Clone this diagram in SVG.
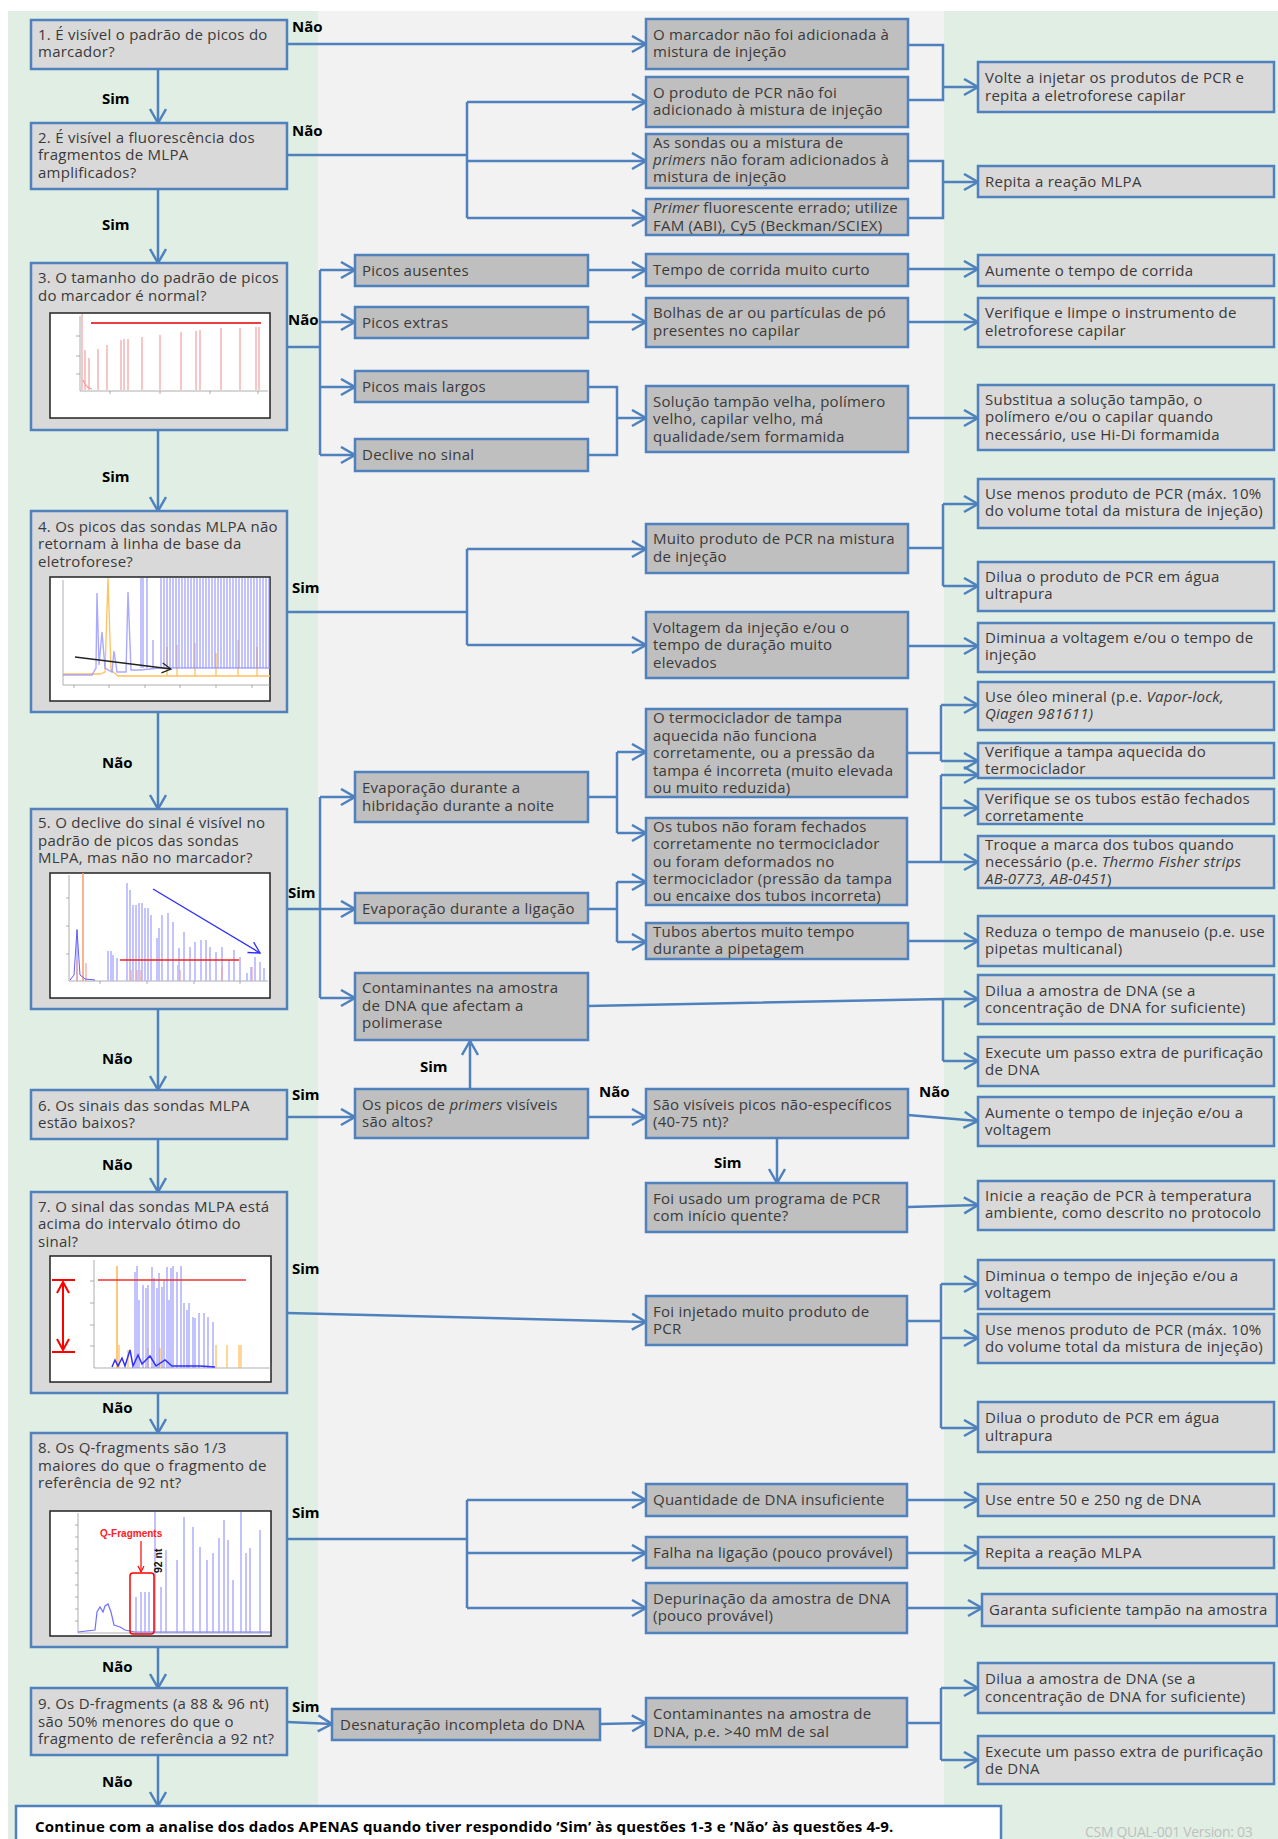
<svg xmlns="http://www.w3.org/2000/svg" width="1278" height="1839" viewBox="0 0 1278 1839">
<style>
.bgg{fill:#E0EEE4}
.bgc{fill:#F2F2F2}
.q{fill:#D9D9D9;stroke:#4F81BD;stroke-width:2.5}
.m{fill:#BFBFBF;stroke:#4F81BD;stroke-width:2.5}
.r{fill:#D9D9D9;stroke:#4F81BD;stroke-width:2.5}
.t{font-family:"Open Sans","Noto Sans",sans-serif;font-size:15px;fill:#3A3A3A;letter-spacing:0.25px}
.lb{font-family:"Open Sans","Noto Sans",sans-serif;font-size:15px;font-weight:bold;fill:#000}
.c{fill:none;stroke:#4F81BD;stroke-width:2.5}
.a{marker-end:url(#ah)}
.ch{fill:#fff;stroke:#222;stroke-width:1.5}
.ax{fill:none;stroke:#999;stroke-width:0.8}
.pr{fill:none;stroke:#F4A0A0;stroke-width:1.2}
.pb{fill:none;stroke:#8C8CFF;stroke-width:1.4;opacity:0.75}
.pbl{fill:none;stroke:#B8B8FF;stroke-width:2;opacity:0.85}
.po{fill:none;stroke:#FFC060;stroke-width:1.3}
</style>
<defs>
<marker id="ah" markerUnits="userSpaceOnUse" markerWidth="18" markerHeight="20" refX="15" refY="9" orient="auto" viewBox="0 0 18 20">
<path d="M1,1 L15,9 L1,17" fill="none" stroke="#4F81BD" stroke-width="2.5"/>
</marker>
<marker id="ahk" markerUnits="userSpaceOnUse" markerWidth="12" markerHeight="12" refX="10" refY="6" orient="auto" viewBox="0 0 12 12">
<path d="M1,1 L10,6 L1,11" fill="none" stroke="#222" stroke-width="1.2"/>
</marker>
<marker id="ahb" markerUnits="userSpaceOnUse" markerWidth="14" markerHeight="14" refX="12" refY="7" orient="auto" viewBox="0 0 14 14">
<path d="M1,1 L12,7 L1,13" fill="none" stroke="#2A2AFF" stroke-width="1.3"/>
</marker>
<marker id="ahr" markerUnits="userSpaceOnUse" markerWidth="14" markerHeight="14" refX="12" refY="7" orient="auto-start-reverse" viewBox="0 0 14 14">
<path d="M1,1 L12,7 L1,13" fill="none" stroke="#FF0000" stroke-width="2"/>
</marker>
<clipPath id="cq3"><rect x="50" y="313" width="220" height="105"/></clipPath>
<clipPath id="cq4"><rect x="50" y="577" width="220" height="124"/></clipPath>
<clipPath id="cq5"><rect x="50" y="873" width="220" height="125"/></clipPath>
<clipPath id="cq7"><rect x="50" y="1256" width="221" height="126"/></clipPath>
<clipPath id="cq8"><rect x="50" y="1511" width="221" height="125"/></clipPath>
</defs>

<rect x="0" y="0" width="1278" height="1839" fill="#FFFFFF"/>
<rect class="bgg" x="8" y="11" width="310" height="1828"/>
<rect class="bgc" x="318" y="11" width="626" height="1828"/>
<rect class="bgg" x="944" y="11" width="334" height="1828"/>

<g id="connectors">
<path class="c a" d="M287,44 H646"/>
<path class="c a" d="M158,69 V123"/>
<path class="c" d="M287,155 H467 M467,102 V218"/>
<path class="c a" d="M467,102 H646"/>
<path class="c a" d="M467,161 H646"/>
<path class="c a" d="M467,218 H646"/>
<path class="c a" d="M158,189 V263"/>
<path class="c" d="M908,45 H943 V100 H908"/>
<path class="c a" d="M943,87 H978"/>
<path class="c" d="M908,161 H943 V218 H908"/>
<path class="c a" d="M943,182 H978"/>
<path class="c" d="M287,347 H320 M320,270 V455"/>
<path class="c a" d="M320,270 H355"/>
<path class="c a" d="M320,322 H355"/>
<path class="c a" d="M320,387 H355"/>
<path class="c a" d="M320,455 H355"/>
<path class="c a" d="M588,270 H646"/>
<path class="c a" d="M588,322 H646"/>
<path class="c" d="M588,387 H617 V455 H588"/>
<path class="c a" d="M617,418 H646"/>
<path class="c a" d="M908,269 H978"/>
<path class="c a" d="M908,322 H978"/>
<path class="c a" d="M908,418 H978"/>
<path class="c a" d="M158,430 V511"/>
<path class="c" d="M287,612 H467 M467,549 V645"/>
<path class="c a" d="M467,549 H646"/>
<path class="c a" d="M467,645 H646"/>
<path class="c" d="M908,548 H943 M943,504 V586"/>
<path class="c a" d="M943,504 H978"/>
<path class="c a" d="M943,586 H978"/>
<path class="c a" d="M908,646 H978"/>
<path class="c a" d="M158,712 V809"/>
<path class="c" d="M287,909 H320 M320,797 V998"/>
<path class="c a" d="M320,797 H355"/>
<path class="c a" d="M320,909 H355"/>
<path class="c a" d="M320,998 H355"/>
<path class="c" d="M588,797 H617 M617,752 V833"/>
<path class="c a" d="M617,752 H646"/>
<path class="c a" d="M617,833 H646"/>
<path class="c" d="M588,909 H617 M617,882 V942"/>
<path class="c a" d="M617,882 H646"/>
<path class="c a" d="M617,942 H646"/>
<path class="c" d="M908,753 H941 M941,705 V761"/>
<path class="c a" d="M941,705 H978"/>
<path class="c a" d="M941,761 H978"/>
<path class="c" d="M908,862 H941 M941,775 V862"/>
<path class="c a" d="M941,775 H978"/>
<path class="c a" d="M941,808 H978"/>
<path class="c a" d="M941,862 H978"/>
<path class="c a" d="M908,941 H978"/>
<path class="c" d="M588,1006 L943,999 M943,999 V1061"/>
<path class="c a" d="M943,999 H978"/>
<path class="c a" d="M943,1061 H978"/>
<path class="c a" d="M158,1009 V1090"/>
<path class="c a" d="M287,1117 H355"/>
<path class="c a" d="M470,1089 V1041"/>
<path class="c a" d="M588,1117 H646"/>
<path class="c a" d="M908,1115 L978,1121"/>
<path class="c a" d="M777,1138 V1183"/>
<path class="c a" d="M908,1207 L978,1205"/>
<path class="c a" d="M158,1139 V1192"/>
<path class="c a" d="M287,1313 L646,1322"/>
<path class="c" d="M908,1321 H941 M941,1284 V1428"/>
<path class="c a" d="M941,1284 H978"/>
<path class="c a" d="M941,1338 H978"/>
<path class="c a" d="M941,1428 H978"/>
<path class="c a" d="M158,1393 V1433"/>
<path class="c" d="M287,1539 H467 M467,1500 V1608"/>
<path class="c a" d="M467,1500 H646"/>
<path class="c a" d="M467,1553 H646"/>
<path class="c a" d="M467,1608 H646"/>
<path class="c a" d="M907,1500 H978"/>
<path class="c a" d="M907,1553 H978"/>
<path class="c a" d="M907,1608 H982"/>
<path class="c a" d="M158,1647 V1688"/>
<path class="c a" d="M287,1722 L332,1724"/>
<path class="c a" d="M600,1724 L646,1723"/>
<path class="c" d="M907,1723 H941 M941,1688 V1760"/>
<path class="c a" d="M941,1688 H978"/>
<path class="c a" d="M941,1760 H978"/>
<path class="c a" d="M158,1755 V1806"/>
</g>

<g id="labels">
<text class="lb" x="292" y="32">Não</text>
<text class="lb" x="102" y="104">Sim</text>
<text class="lb" x="292" y="136">Não</text>
<text class="lb" x="102" y="230">Sim</text>
<text class="lb" x="288" y="325">Não</text>
<text class="lb" x="102" y="482">Sim</text>
<text class="lb" x="292" y="593">Sim</text>
<text class="lb" x="102" y="768">Não</text>
<text class="lb" x="288" y="898">Sim</text>
<text class="lb" x="102" y="1064">Não</text>
<text class="lb" x="292" y="1100">Sim</text>
<text class="lb" x="420" y="1072">Sim</text>
<text class="lb" x="599" y="1097">Não</text>
<text class="lb" x="919" y="1097">Não</text>
<text class="lb" x="714" y="1168">Sim</text>
<text class="lb" x="102" y="1170">Não</text>
<text class="lb" x="292" y="1274">Sim</text>
<text class="lb" x="102" y="1413">Não</text>
<text class="lb" x="292" y="1518">Sim</text>
<text class="lb" x="102" y="1672">Não</text>
<text class="lb" x="292" y="1712">Sim</text>
<text class="lb" x="102" y="1787">Não</text>
</g>

<g id="q1">
<rect class="q" x="31" y="20" width="256" height="49"/>
<text class="t"><tspan x="38" y="40">1. É visível o padrão de picos do</tspan><tspan x="38" y="57">marcador?</tspan></text>
</g>
<g id="q2">
<rect class="q" x="31" y="123" width="256" height="66"/>
<text class="t"><tspan x="38" y="143">2. É visível a fluorescência dos</tspan><tspan x="38" y="160">fragmentos de MLPA</tspan><tspan x="38" y="178">amplificados?</tspan></text>
</g>
<g id="q3">
<rect class="q" x="31" y="263" width="256" height="167"/>
<text class="t"><tspan x="38" y="283">3. O tamanho do padrão de picos</tspan><tspan x="38" y="301">do marcador é normal?</tspan></text>
<rect class="ch" x="50" y="313" width="220" height="105"/>
<g clip-path="url(#cq3)">
<path class="ax" d="M80,316 V391 H268 M76,336 H80 M76,356 H80 M76,374 H80 M110,391 V394 M160,391 V394 M210,391 V394 M258,391 V394"/>
<path class="pr" d="M82,390V314 M85,390V350 M89,390V358 M98,390V349 M107,390V345 M121,390V340 M124,390V339 M128,390V339 M142,390V337 M160,390V335 M181,390V332 M196,390V331 M200,390V330 M221,390V328 M240,390V328 M256,390V327 M259,390V327 M83,380 Q86,388 92,389"/>
<path d="M91,323 H261" stroke="#E00000" stroke-width="1.5"/>
</g>
</g>
<g id="q4">
<rect class="q" x="31" y="511" width="256" height="201"/>
<text class="t"><tspan x="38" y="532">4. Os picos das sondas MLPA não</tspan><tspan x="38" y="549">retornam à linha de base da</tspan><tspan x="38" y="567">eletroforese?</tspan></text>
<rect class="ch" x="50" y="577" width="220" height="124"/>
<g clip-path="url(#cq4)">
<path class="ax" d="M63,580 V685 H270 M74,685 V688 M109,685 V688 M145,685 V688 M180,685 V688 M216,685 V688 M252,685 V688"/>
<path class="po" d="M63,674 L100,674 L105,672 L108,578 L111,670 L118,676 L270,676 M167,676V647 M177,676V645 M195,676V643 M216,676V653 M238,676V640 M257,676V647"/>
<path class="pb" d="M63,675 L92,675 L96,668 L97,593 L99,665 L102,632 L105,668 L112,672 L114,651 L117,672 L126,672 L128,592 L131,670 L140,670 L160,668 L270,668"/>
<path class="pb" d="M141,668V578 M143,668V578 M147,668V578 M153,668V640 M161,668V578 M164,668V578 M167,668V578 M170,668V578 M173,668V578 M176,668V578 M179,668V578 M182,668V578 M185,668V578 M188,668V578 M191,668V578 M194,668V578 M197,668V578 M200,668V578 M203,668V578 M206,668V578 M209,668V578 M212,668V578 M215,668V578 M218,668V578 M221,668V578 M224,668V578 M227,668V578 M230,668V578 M233,668V578 M236,668V578 M239,668V578 M242,668V578 M245,668V578 M248,668V578 M251,668V578 M254,668V578 M257,668V578 M260,668V578 M263,668V578 M266,668V578 M269,668V578"/>
<path d="M75,657 L171,669" stroke="#222" stroke-width="1.3" fill="none" marker-end="url(#ahk)"/>
</g>
</g>
<g id="q5">
<rect class="q" x="31" y="809" width="256" height="200"/>
<text class="t"><tspan x="38" y="828">5. O declive do sinal é visível no</tspan><tspan x="38" y="846">padrão de picos das sondas</tspan><tspan x="38" y="863">MLPA, mas não no marcador?</tspan></text>
<rect class="ch" x="50" y="873" width="220" height="125"/>
<g clip-path="url(#cq5)">
<path class="ax" d="M69,875 V981 H268 M66,898 H69 M66,926 H69 M66,954 H69 M100,981 V984 M147,981 V984 M194,981 V984 M240,981 V984"/>
<path class="pbl" d="M77,981V929 M127,981V883 M130,981V890 M133,981V905 M136,981V905 M139,981V903 M142,981V903 M145,981V908 M148,981V908 M151,981V915 M157,981V938 M159,981V928 M162,981V915 M168,981V913 M173,981V922 M178,981V965 M179,981V948 M184,981V932 M190,981V947 M195,981V942 M201,981V940 M206,981V940 M210,981V947 M216,981V952 M222,981V947 M229,981V960 M234,981V950 M240,981V957 M247,981V973 M251,981V967 M255,981V957 M260,981V962 M264,981V968 M108,981V951 M111,981V951 M113,981V955 M117,981V958"/>
<path class="pr" d="M77,981V960 M86,981V963 M131,981V970 M137,981V970 M141,981V970 M180,981V970 M222,981V967 M252,981V967"/>
<path d="M83,873 V981" stroke="#F8A070" stroke-width="1.6"/>
<path d="M70,980 L74,975 L77,930 L80,975 L85,979 L95,980" fill="none" stroke="#6060FF" stroke-width="1"/>
<path d="M120,960 H239" stroke="#F02020" stroke-width="1.6"/>
<path d="M153,889 L260,953" stroke="#2A2AFF" stroke-width="1.3" fill="none" marker-end="url(#ahb)"/>
</g>
</g>
<g id="q6">
<rect class="q" x="31" y="1090" width="256" height="49"/>
<text class="t"><tspan x="38" y="1111">6. Os sinais das sondas MLPA</tspan><tspan x="38" y="1128">estão baixos?</tspan></text>
</g>
<g id="q7">
<rect class="q" x="31" y="1192" width="256" height="201"/>
<text class="t"><tspan x="38" y="1212">7. O sinal das sondas MLPA está</tspan><tspan x="38" y="1229">acima do intervalo ótimo do</tspan><tspan x="38" y="1247">sinal?</tspan></text>
<rect class="ch" x="50" y="1256" width="221" height="126"/>
<g clip-path="url(#cq7)">
<path class="ax" d="M94,1260 V1368 H271 M90,1281 H94 M90,1303 H94 M90,1325 H94 M90,1346 H94"/>
<path d="M117,1266 V1368" stroke="#FFB040" stroke-width="1.4"/>
<path class="po" d="M216,1368V1345 M227,1368V1345 M239,1368V1345 M241,1368V1345 M119,1368V1345 M128,1368V1350 M148,1368V1348 M160,1368V1348"/>
<path class="pb" d="M135,1368V1272 M137,1368V1266 M143,1368V1285 M146,1368V1288 M148,1368V1285 M152,1368V1267 M154,1368V1278 M157,1368V1288 M159,1368V1273 M162,1368V1287 M164,1368V1280 M167,1368V1267 M171,1368V1268 M173,1368V1266 M177,1368V1272 M181,1368V1266 M184,1368V1303 M189,1368V1303 M193,1368V1317 M195,1368V1318 M199,1368V1313 M204,1368V1313 M208,1368V1317 M213,1368V1322 M139,1368V1300 M169,1368V1300 M187,1368V1310"/>
<path d="M112,1367 L115,1360 L118,1366 L122,1358 L125,1366 L130,1350 L133,1366 L138,1355 L142,1364 L150,1356 L156,1366 L165,1360 L172,1366 L200,1366 L215,1367" fill="none" stroke="#3030FF" stroke-width="1.5"/>
<path d="M98,1280 H246" stroke="#F03030" stroke-width="1.4"/>
<path d="M52,1280 H75 M52,1352 H75" stroke="#FF0000" stroke-width="2"/>
<path d="M63,1282 V1350" stroke="#FF0000" stroke-width="2" fill="none" marker-start="url(#ahr)" marker-end="url(#ahr)"/>
</g>
</g>
<g id="q8">
<rect class="q" x="31" y="1433" width="256" height="214"/>
<text class="t"><tspan x="38" y="1453">8. Os Q-fragments são 1/3</tspan><tspan x="38" y="1471">maiores do que o fragmento de</tspan><tspan x="38" y="1488">referência de 92 nt?</tspan></text>
<rect class="ch" x="50" y="1511" width="221" height="125"/>
<g clip-path="url(#cq8)">
<path class="ax" d="M78,1513 V1633 H270 M75,1525 H78 M75,1537 H78 M75,1549 H78 M75,1561 H78 M75,1573 H78 M75,1585 H78 M75,1597 H78 M75,1609 H78 M75,1621 H78"/>
<path d="M78,1632 L95,1630 L97,1612 L100,1607 L103,1612 L105,1606 L108,1604 L111,1612 L114,1625 L120,1627 L125,1630 L135,1632 L270,1632" fill="none" stroke="#7070FF" stroke-width="1.2"/>
<path class="pb" d="M136,1633V1597 M141,1633V1592 M145,1633V1592 M149,1633V1592 M155,1633V1512 M161,1633V1587 M166,1633V1550 M177,1633V1560 M184,1633V1517 M193,1633V1527 M200,1633V1547 M207,1633V1560 M213,1633V1553 M219,1633V1538 M224,1633V1520 M228,1633V1540 M233,1633V1580 M241,1633V1512 M246,1633V1553 M250,1633V1548 M260,1633V1530"/>
<rect x="130" y="1573" width="24" height="61" rx="3" fill="none" stroke="#FF0000" stroke-width="1.5"/>
<path d="M141,1541 V1570" stroke="#FF0000" stroke-width="1.2"/>
<path d="M138,1566 L141,1572 L144,1566" fill="none" stroke="#FF0000" stroke-width="1.2"/>
<text x="100" y="1537" font-family="Liberation Sans, Arial, sans-serif" font-size="10" font-weight="bold" fill="#FF2020">Q-Fragments</text>
<text transform="translate(162,1573) rotate(-90)" font-family="Liberation Sans, Arial, sans-serif" font-size="10.5" font-weight="bold" fill="#111">92 nt</text>
</g>
</g>
<g id="q9">
<rect class="q" x="31" y="1688" width="256" height="67"/>
<text class="t"><tspan x="38" y="1709">9. Os D-fragments (a 88 &amp; 96 nt)</tspan><tspan x="38" y="1727">são 50% menores do que o</tspan><tspan x="38" y="1744">fragmento de referência a 92 nt?</tspan></text>
</g>

<g id="m-picos-ausentes"><rect class="m" x="355" y="255" width="233" height="31"/><text class="t" x="362" y="276">Picos ausentes</text></g>
<g id="m-picos-extras"><rect class="m" x="355" y="307" width="233" height="31"/><text class="t" x="362" y="328">Picos extras</text></g>
<g id="m-picos-largos"><rect class="m" x="355" y="371" width="233" height="31"/><text class="t" x="362" y="392">Picos mais largos</text></g>
<g id="m-declive"><rect class="m" x="355" y="439" width="233" height="32"/><text class="t" x="362" y="460">Declive no sinal</text></g>
<g id="m-evap-hib"><rect class="m" x="355" y="772" width="233" height="50"/><text class="t"><tspan x="362" y="793">Evaporação durante a</tspan><tspan x="362" y="811">hibridação durante a noite</tspan></text></g>
<g id="m-evap-lig"><rect class="m" x="355" y="893" width="233" height="30"/><text class="t" x="362" y="914">Evaporação durante a ligação</text></g>
<g id="m-contam"><rect class="m" x="355" y="973" width="233" height="67"/><text class="t"><tspan x="362" y="993">Contaminantes na amostra</tspan><tspan x="362" y="1011">de DNA que afectam a</tspan><tspan x="362" y="1028">polimerase</tspan></text></g>
<g id="m-primers"><rect class="m" x="355" y="1089" width="233" height="49"/><text class="t"><tspan x="362" y="1110">Os picos de <tspan font-style="italic">primers</tspan> visíveis</tspan><tspan x="362" y="1127">são altos?</tspan></text></g>
<g id="m-desnat"><rect class="m" x="332" y="1709" width="268" height="31"/><text class="t" x="340" y="1730">Desnaturação incompleta do DNA</text></g>

<g id="c-marcador"><rect class="m" x="646" y="19" width="262" height="50"/><text class="t"><tspan x="653" y="40">O marcador não foi adicionada à</tspan><tspan x="653" y="57">mistura de injeção</tspan></text></g>
<g id="c-produto"><rect class="m" x="646" y="77" width="262" height="50"/><text class="t"><tspan x="653" y="98">O produto de PCR não foi</tspan><tspan x="653" y="115">adicionado à mistura de injeção</tspan></text></g>
<g id="c-sondas"><rect class="m" x="646" y="134" width="262" height="54"/><text class="t"><tspan x="653" y="148">As sondas ou a mistura de</tspan><tspan x="653" y="165"><tspan font-style="italic">primers</tspan> não foram adicionados à</tspan><tspan x="653" y="182">mistura de injeção</tspan></text></g>
<g id="c-primer"><rect class="m" x="646" y="199" width="262" height="36"/><text class="t"><tspan x="653" y="213"><tspan font-style="italic">Primer</tspan> fluorescente errado; utilize</tspan><tspan x="653" y="231">FAM (ABI), Cy5 (Beckman/SCIEX)</tspan></text></g>
<g id="c-tempo"><rect class="m" x="646" y="254" width="262" height="32"/><text class="t" x="653" y="275">Tempo de corrida muito curto</text></g>
<g id="c-bolhas"><rect class="m" x="646" y="298" width="262" height="49"/><text class="t"><tspan x="653" y="318">Bolhas de ar ou partículas de pó</tspan><tspan x="653" y="336">presentes no capilar</tspan></text></g>
<g id="c-solucao"><rect class="m" x="646" y="386" width="262" height="66"/><text class="t"><tspan x="653" y="407">Solução tampão velha, polímero</tspan><tspan x="653" y="424">velho, capilar velho, má</tspan><tspan x="653" y="442">qualidade/sem formamida</tspan></text></g>
<g id="c-muito"><rect class="m" x="646" y="524" width="262" height="49"/><text class="t"><tspan x="653" y="544">Muito produto de PCR na mistura</tspan><tspan x="653" y="562">de injeção</tspan></text></g>
<g id="c-voltagem"><rect class="m" x="646" y="612" width="262" height="66"/><text class="t"><tspan x="653" y="633">Voltagem da injeção e/ou o</tspan><tspan x="653" y="650">tempo de duração muito</tspan><tspan x="653" y="668">elevados</tspan></text></g>
<g id="c-termo"><rect class="m" x="646" y="709" width="261" height="88"/><text class="t"><tspan x="653" y="723">O termociclador de tampa</tspan><tspan x="653" y="741">aquecida não funciona</tspan><tspan x="653" y="758">corretamente, ou a pressão da</tspan><tspan x="653" y="776">tampa é incorreta (muito elevada</tspan><tspan x="653" y="793">ou muito reduzida)</tspan></text></g>
<g id="c-tubos"><rect class="m" x="646" y="818" width="261" height="87"/><text class="t"><tspan x="653" y="832">Os tubos não foram fechados</tspan><tspan x="653" y="849">corretamente no termociclador</tspan><tspan x="653" y="867">ou foram deformados no</tspan><tspan x="653" y="884">termociclador (pressão da tampa</tspan><tspan x="653" y="901">ou encaixe dos tubos incorreta)</tspan></text></g>
<g id="c-abertos"><rect class="m" x="646" y="923" width="262" height="36"/><text class="t"><tspan x="653" y="937">Tubos abertos muito tempo</tspan><tspan x="653" y="954">durante a pipetagem</tspan></text></g>
<g id="c-inespec"><rect class="m" x="646" y="1089" width="262" height="49"/><text class="t"><tspan x="653" y="1110">São visíveis picos não-específicos</tspan><tspan x="653" y="1127">(40-75 nt)?</tspan></text></g>
<g id="c-hotstart"><rect class="m" x="646" y="1183" width="261" height="49"/><text class="t"><tspan x="653" y="1204">Foi usado um programa de PCR</tspan><tspan x="653" y="1221">com início quente?</tspan></text></g>
<g id="c-injetado"><rect class="m" x="646" y="1296" width="261" height="49"/><text class="t"><tspan x="653" y="1317">Foi injetado muito produto de</tspan><tspan x="653" y="1334">PCR</tspan></text></g>
<g id="c-quantidade"><rect class="m" x="646" y="1484" width="261" height="32"/><text class="t" x="653" y="1505">Quantidade de DNA insuficiente</text></g>
<g id="c-falha"><rect class="m" x="646" y="1537" width="261" height="31"/><text class="t" x="653" y="1558">Falha na ligação (pouco provável)</text></g>
<g id="c-depur"><rect class="m" x="646" y="1583" width="261" height="50"/><text class="t"><tspan x="653" y="1604">Depurinação da amostra de DNA</tspan><tspan x="653" y="1621">(pouco provável)</tspan></text></g>
<g id="c-sal"><rect class="m" x="646" y="1698" width="261" height="49"/><text class="t"><tspan x="653" y="1719">Contaminantes na amostra de</tspan><tspan x="653" y="1737">DNA, p.e. &gt;40 mM de sal</tspan></text></g>

<g id="s-reinjetar"><rect class="r" x="978" y="62" width="296" height="50"/><text class="t"><tspan x="985" y="83">Volte a injetar os produtos de PCR e</tspan><tspan x="985" y="101">repita a eletroforese capilar</tspan></text></g>
<g id="s-repita1"><rect class="r" x="978" y="166" width="296" height="31"/><text class="t" x="985" y="187">Repita a reação MLPA</text></g>
<g id="s-aumente"><rect class="r" x="978" y="255" width="296" height="31"/><text class="t" x="985" y="276">Aumente o tempo de corrida</text></g>
<g id="s-verifique-ce"><rect class="r" x="978" y="298" width="296" height="49"/><text class="t"><tspan x="985" y="318">Verifique e limpe o instrumento de</tspan><tspan x="985" y="336">eletroforese capilar</tspan></text></g>
<g id="s-substitua"><rect class="r" x="978" y="385" width="296" height="65"/><text class="t"><tspan x="985" y="405">Substitua a solução tampão, o</tspan><tspan x="985" y="422">polímero e/ou o capilar quando</tspan><tspan x="985" y="440">necessário, use Hi-Di formamida</tspan></text></g>
<g id="s-menos1"><rect class="r" x="978" y="479" width="296" height="49"/><text class="t"><tspan x="985" y="499">Use menos produto de PCR (máx. 10%</tspan><tspan x="985" y="516">do volume total da mistura de injeção)</tspan></text></g>
<g id="s-dilua1"><rect class="r" x="978" y="562" width="296" height="49"/><text class="t"><tspan x="985" y="582">Dilua o produto de PCR em água</tspan><tspan x="985" y="599">ultrapura</tspan></text></g>
<g id="s-diminua-v"><rect class="r" x="978" y="623" width="296" height="49"/><text class="t"><tspan x="985" y="643">Diminua a voltagem e/ou o tempo de</tspan><tspan x="985" y="660">injeção</tspan></text></g>
<g id="s-oleo"><rect class="r" x="978" y="682" width="296" height="48"/><text class="t"><tspan x="985" y="702">Use óleo mineral (p.e. <tspan font-style="italic">Vapor-lock,</tspan></tspan><tspan x="985" y="719" font-style="italic">Qiagen 981611)</tspan></text></g>
<g id="s-tampa"><rect class="r" x="978" y="743" width="296" height="35"/><text class="t"><tspan x="985" y="757">Verifique a tampa aquecida do</tspan><tspan x="985" y="774">termociclador</tspan></text></g>
<g id="s-fechados"><rect class="r" x="978" y="789" width="296" height="35"/><text class="t"><tspan x="985" y="804">Verifique se os tubos estão fechados</tspan><tspan x="985" y="821">corretamente</tspan></text></g>
<g id="s-troque"><rect class="r" x="978" y="836" width="296" height="52"/><text class="t"><tspan x="985" y="850">Troque a marca dos tubos quando</tspan><tspan x="985" y="867">necessário (p.e. <tspan font-style="italic">Thermo Fisher strips</tspan></tspan><tspan x="985" y="884"><tspan font-style="italic">AB-0773, AB-0451</tspan>)</tspan></text></g>
<g id="s-reduza"><rect class="r" x="978" y="916" width="296" height="50"/><text class="t"><tspan x="985" y="937">Reduza o tempo de manuseio (p.e. use</tspan><tspan x="985" y="954">pipetas multicanal)</tspan></text></g>
<g id="s-dilua-dna1"><rect class="r" x="978" y="975" width="296" height="49"/><text class="t"><tspan x="985" y="996">Dilua a amostra de DNA (se a</tspan><tspan x="985" y="1013">concentração de DNA for suficiente)</tspan></text></g>
<g id="s-purif1"><rect class="r" x="978" y="1037" width="296" height="49"/><text class="t"><tspan x="985" y="1058">Execute um passo extra de purificação</tspan><tspan x="985" y="1075">de DNA</tspan></text></g>
<g id="s-aumente-inj"><rect class="r" x="978" y="1097" width="296" height="49"/><text class="t"><tspan x="985" y="1118">Aumente o tempo de injeção e/ou a</tspan><tspan x="985" y="1135">voltagem</tspan></text></g>
<g id="s-inicie"><rect class="r" x="978" y="1181" width="296" height="49"/><text class="t"><tspan x="985" y="1201">Inicie a reação de PCR à temperatura</tspan><tspan x="985" y="1218">ambiente, como descrito no protocolo</tspan></text></g>
<g id="s-diminua-t"><rect class="r" x="978" y="1260" width="296" height="49"/><text class="t"><tspan x="985" y="1281">Diminua o tempo de injeção e/ou a</tspan><tspan x="985" y="1298">voltagem</tspan></text></g>
<g id="s-menos2"><rect class="r" x="978" y="1314" width="296" height="49"/><text class="t"><tspan x="985" y="1335">Use menos produto de PCR (máx. 10%</tspan><tspan x="985" y="1352">do volume total da mistura de injeção)</tspan></text></g>
<g id="s-dilua2"><rect class="r" x="978" y="1402" width="296" height="50"/><text class="t"><tspan x="985" y="1423">Dilua o produto de PCR em água</tspan><tspan x="985" y="1441">ultrapura</tspan></text></g>
<g id="s-entre"><rect class="r" x="978" y="1484" width="296" height="32"/><text class="t" x="985" y="1505">Use entre 50 e 250 ng de DNA</text></g>
<g id="s-repita2"><rect class="r" x="978" y="1537" width="296" height="31"/><text class="t" x="985" y="1558">Repita a reação MLPA</text></g>
<g id="s-garanta"><rect class="r" x="982" y="1594" width="295" height="32"/><text class="t" x="989" y="1615">Garanta suficiente tampão na amostra</text></g>
<g id="s-dilua-dna2"><rect class="r" x="978" y="1663" width="296" height="50"/><text class="t"><tspan x="985" y="1684">Dilua a amostra de DNA (se a</tspan><tspan x="985" y="1702">concentração de DNA for suficiente)</tspan></text></g>
<g id="s-purif2"><rect class="r" x="978" y="1736" width="296" height="48"/><text class="t"><tspan x="985" y="1757">Execute um passo extra de purificação</tspan><tspan x="985" y="1774">de DNA</tspan></text></g>

<g id="footer">
<rect x="16" y="1806" width="985" height="45" fill="#FFFFFF" stroke="#4F81BD" stroke-width="2.5"/>
<text x="35" y="1832" font-family="Open Sans, Noto Sans, sans-serif" font-size="15" font-weight="bold" fill="#000" letter-spacing="0.2">Continue com a analise dos dados APENAS quando tiver respondido ‘Sim’ às questões 1-3 e ‘Não’ às questões 4-9.</text>
</g>
<text x="1085" y="1837" font-family="Open Sans, Noto Sans, sans-serif" font-size="14" fill="#BFBFBF" letter-spacing="-0.3">CSM QUAL-001 Version: 03</text>
</svg>
